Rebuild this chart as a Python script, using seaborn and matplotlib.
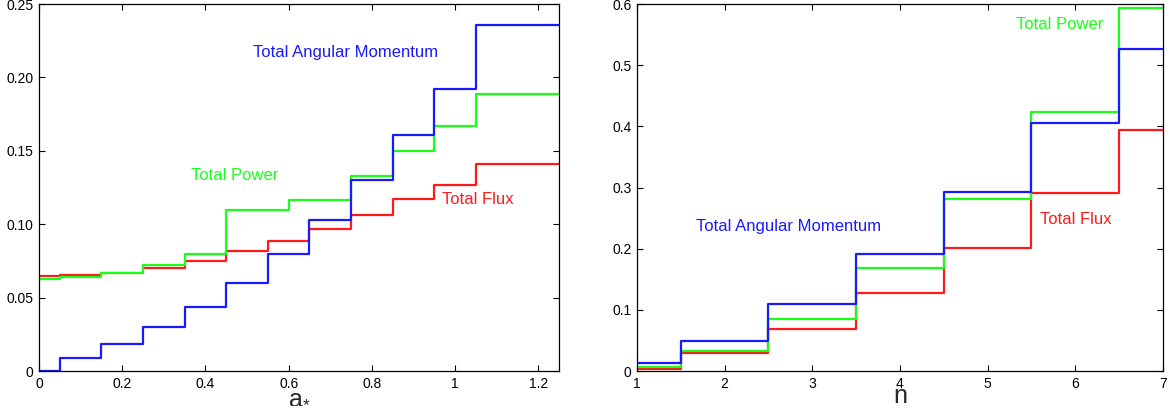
import matplotlib
matplotlib.use("Agg")
import matplotlib.pyplot as plt
import seaborn as sns
import pandas as pd

# left panel: spin a*
a_edges = [0, 0.05, 0.15, 0.25, 0.35, 0.45, 0.55, 0.65, 0.75, 0.85, 0.95, 1.05, 1.25]
a_flux = [0.0645, 0.0652, 0.067, 0.0705, 0.075, 0.0816, 0.0886, 0.097, 0.1066, 0.1173, 0.1266, 0.141]
a_angmom = [0.0, 0.0086, 0.0186, 0.030, 0.0436, 0.060, 0.0795, 0.1027, 0.130, 0.161, 0.192, 0.236]
a_power_edges = [0, 0.05, 0.15, 0.25, 0.35, 0.45, 0.6, 0.75, 0.85, 0.95, 1.05, 1.25]
a_power = [0.0627, 0.064, 0.067, 0.0725, 0.080, 0.110, 0.1166, 0.1327, 0.150, 0.1666, 0.189]

# right panel: n
n_edges = [1, 1.5, 2.5, 3.5, 4.5, 5.5, 6.5, 7]
n_flux = [0.004, 0.029, 0.0687, 0.127, 0.2017, 0.2918, 0.394]
n_power = [0.0066, 0.0335, 0.0846, 0.1676, 0.281, 0.423, 0.593]
n_angmom = [0.0132, 0.049, 0.110, 0.192, 0.293, 0.405, 0.527]

left_xticks = [0, 0.2, 0.4, 0.6, 0.8, 1.0, 1.2]
left_xlabels = ["0", "0.2", "0.4", "0.6", "0.8", "1", "1.2"]
left_yticks = [0, 0.05, 0.10, 0.15, 0.20, 0.25]
left_ylabels = ["0", "0.05", "0.10", "0.15", "0.20", "0.25"]
right_xticks = [1, 2, 3, 4, 5, 6, 7]
right_xlabels = ["1", "2", "3", "4", "5", "6", "7"]
right_yticks = [0, 0.1, 0.2, 0.3, 0.4, 0.5, 0.6]
right_ylabels = ["0", "0.1", "0.2", "0.3", "0.4", "0.5", "0.6"]

RED, GREEN, BLUE = "#ff1a1a", "#1aff1a", "#1a1aff"

sns.set_style("ticks")
plt.rcParams['font.family'] = ['Liberation Sans', 'DejaVu Sans']
plt.rcParams['mathtext.fontset'] = 'custom'
plt.rcParams['mathtext.rm'] = 'Liberation Sans'
plt.rcParams['mathtext.it'] = 'Liberation Sans'


def step_df(edges, vals):
    # repeat the last value so steps-post reaches the final edge
    return pd.DataFrame({"x": edges, "y": list(vals) + [vals[-1]]})


def draw(ax, series):
    for edges, vals, col in series:
        sns.lineplot(data=step_df(edges, vals), x="x", y="y", ax=ax, color=col,
                     drawstyle="steps-post", linewidth=1.6, estimator=None)


def style(ax, xt, xl, yt, yl, label):
    ax.set_xticks(xt)
    ax.set_xticklabels(xl)
    ax.set_yticks(yt)
    ax.set_yticklabels(yl)
    ax.tick_params(direction="in", top=True, right=True, length=4, width=0.8,
                   labelsize=10, colors="black", pad=4)
    for s in ax.spines.values():
        s.set_visible(True)
        s.set_color("black")
        s.set_linewidth(0.9)
    ax.set_ylabel("")
    ax.set_xlabel(label, fontsize=18, va="baseline")
    ax.xaxis.set_label_coords(0.5, -0.087)


fig = plt.figure(figsize=(11.72, 4.12), dpi=100)
ax1 = fig.add_axes([0.0333, 0.0995, 0.4437, 0.8907])
ax2 = fig.add_axes([0.5435, 0.0995, 0.4488, 0.8907])

draw(ax1, [(a_edges, a_flux, RED), (a_power_edges, a_power, GREEN), (a_edges, a_angmom, BLUE)])
ax1.set_xlim(0, 1.25)
ax1.set_ylim(0, 0.25)
style(ax1, left_xticks, left_xlabels, left_yticks, left_ylabels, r"a$_{*}$")
ax1.text(0.514, 0.217, "Total Angular Momentum", color=BLUE, fontsize=12, va="center")
ax1.text(0.365, 0.133, "Total Power", color=GREEN, fontsize=12, va="center")
ax1.text(0.969, 0.117, "Total Flux", color=RED, fontsize=12, va="center")

draw(ax2, [(n_edges, n_flux, RED), (n_edges, n_power, GREEN), (n_edges, n_angmom, BLUE)])
ax2.set_xlim(1, 7)
ax2.set_ylim(0, 0.6)
style(ax2, right_xticks, right_xlabels, right_yticks, right_ylabels, "n")
ax2.text(1.673, 0.237, "Total Angular Momentum", color=BLUE, fontsize=12, va="center")
ax2.text(5.32, 0.567, "Total Power", color=GREEN, fontsize=12, va="center")
ax2.text(5.6, 0.248, "Total Flux", color=RED, fontsize=12, va="center")

plt.savefig("out.png", dpi=100)
